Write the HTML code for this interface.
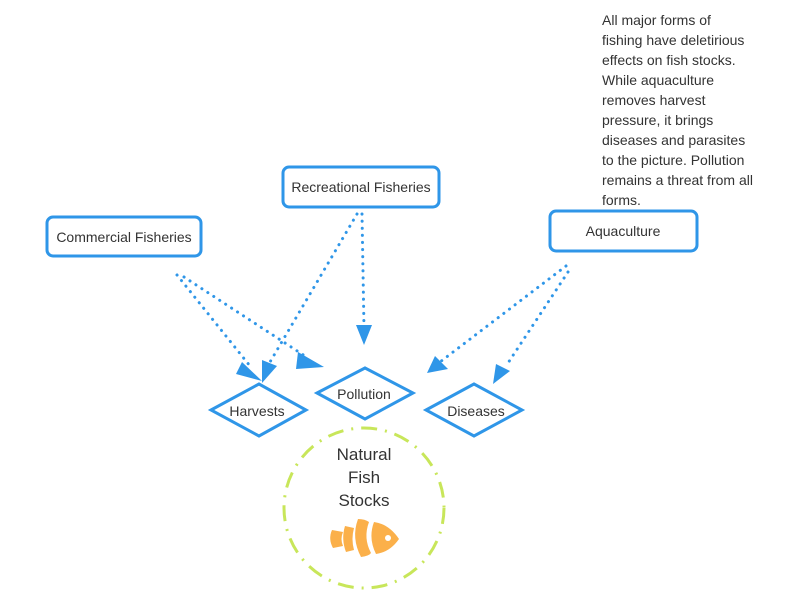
<!DOCTYPE html>
<html><head><style>
body{margin:0;background:#fff;}
svg{display:block;font-family:"Liberation Sans",sans-serif;}
</style></head><body>
<svg width="806" height="599" viewBox="0 0 806 599">
<g fill="none" stroke="#2f96e8" stroke-width="3" stroke-linecap="round" stroke-dasharray="0.1 7">
<line x1="177" y1="275" x2="250" y2="366"/>
<line x1="184" y1="277" x2="308" y2="358"/>
<line x1="357" y1="214" x2="270" y2="362"/>
<line x1="362" y1="214" x2="364" y2="328"/>
<line x1="566" y1="266" x2="440" y2="362"/>
<line x1="568" y1="272" x2="506" y2="366"/>
</g>
<g fill="#2f96e8">
<path d="M242,362 L262,381 L236,374 z"/>
<path d="M298,352 L324,367 L296,369 z"/>
<path d="M262,360 L262,383 L277,366 z"/>
<path d="M356,325 L372,325 L364,345 z"/>
<path d="M435,356 L427,373 L448,369 z"/>
<path d="M496,364 L493,384 L510,371 z"/>
</g>
<g fill="#fff" stroke="#2f96e8" stroke-width="3">
<rect x="47" y="217" width="154" height="39" rx="6"/>
<rect x="283" y="167" width="156" height="40" rx="6"/>
<rect x="550" y="211" width="147" height="40" rx="6"/>
<path d="M211,410 L259,384 L306,410 L259,436 z"/>
<path d="M317,393 L365,368 L413,393 L365,419 z"/>
<path d="M426,410 L474,384 L522,410 L474,436 z"/>
</g>
<circle cx="364" cy="508" r="80" fill="none" stroke="#c8e65a" stroke-width="3" stroke-dasharray="16 8 2 8"/>
<g fill="#333" font-size="14" text-anchor="middle">
<text x="124" y="242">Commercial Fisheries</text>
<text x="361" y="192">Recreational Fisheries</text>
<text x="623" y="236">Aquaculture</text>
<text x="257" y="416">Harvests</text>
<text x="364" y="399">Pollution</text>
<text x="476" y="416">Diseases</text>
<text x="364" y="460" font-size="17">Natural</text>
<text x="364" y="483" font-size="17">Fish</text>
<text x="364" y="506" font-size="17">Stocks</text>
</g>
<g fill="#333" font-size="14">
<text x="602" y="25">All major forms of</text>
<text x="602" y="45">fishing have deletirious</text>
<text x="602" y="65">effects on fish stocks.</text>
<text x="602" y="85">While aquaculture</text>
<text x="602" y="105">removes harvest</text>
<text x="602" y="125">pressure, it brings</text>
<text x="602" y="145">diseases and parasites</text>
<text x="602" y="165">to the picture. Pollution</text>
<text x="602" y="185">remains a threat from all</text>
<text x="602" y="205">forms.</text>
</g>
<g fill="#fbb04a">
<path d="M332,530 q-4,9 1,18 l10,-2 q-3,-7 0,-14 z"/>
<path d="M345,526 q-4,13 1,26 l8,-2 q-3,-11 0,-22 z"/>
<path d="M358,519 q-7,19 3,38 q8,-1 10,-4 q-8,-15 -2,-31 q-4,-3 -11,-3 z"/>
<path d="M374,522 q-6,16 2,32 q14,-2 23,-15 q-10,-15 -25,-17 z"/>
</g>
<circle cx="388" cy="538" r="3" fill="#fff"/>
</svg>
</body></html>
